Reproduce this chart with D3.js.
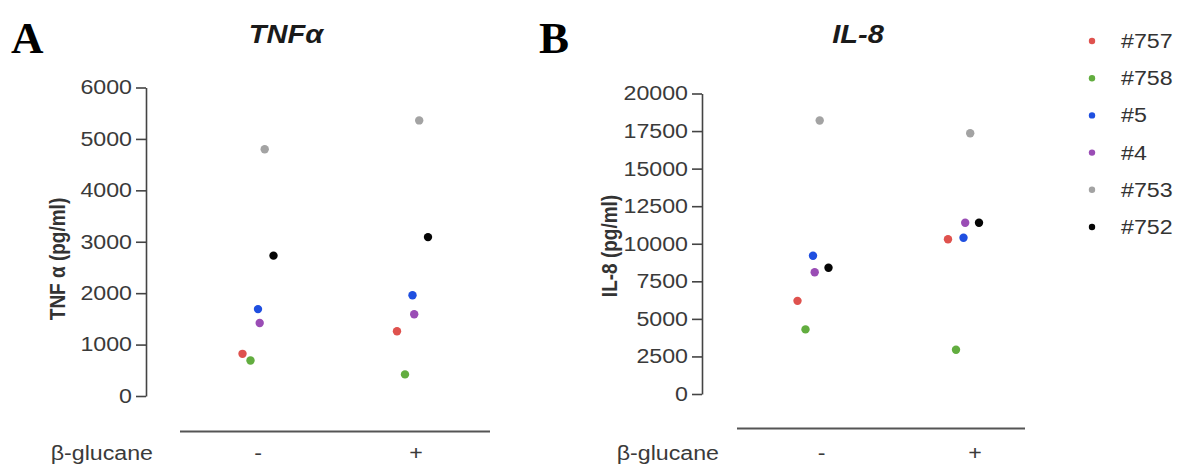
<!DOCTYPE html>
<html>
<head>
<meta charset="utf-8">
<script src="https://cdn.jsdelivr.net/npm/d3@7"></script>
<style>
  html, body { margin: 0; padding: 0; background: #fff; }
  svg { display: block; }
  svg text { font-family: "Liberation Sans", Arial, sans-serif; }
  svg text.letter { font-family: "Liberation Serif", "Times New Roman", serif; }
</style>
</head>
<body>
<svg id="chart" width="1179" height="465"></svg>
<script>
// Donors (series) and treatment groups
const donors = ["#757", "#758", "#5", "#4", "#753", "#752"];
const groups = ["-", "+"];

// TNFα concentrations (pg/ml), one value per donor
const tnfMinus = [820, 690, 1690, 1420, 4800, 2730];
const tnfPlus  = [1260, 420, 1960, 1590, 5360, 3090];

// IL-8 concentrations (pg/ml), one value per donor
const il8Minus = [6200, 4300, 9200, 8100, 18200, 8400];
const il8Plus  = [10300, 2950, 10400, 11400, 17350, 11400];

// Axis tick values
const tnfTicks = [0, 1000, 2000, 3000, 4000, 5000, 6000];
const il8Ticks = [0, 2500, 5000, 7500, 10000, 12500, 15000, 17500, 20000];

// Styling
const donorColors = ["#df524e", "#62ad3f", "#1f4fe0", "#9a4db5", "#a3a3a3", "#050505"];
const dodge = [-15.5, -7.5, 0, 1.7, 6.7, 15.5];   // horizontal spread of donors within a group
const SX = 1.16;                                   // horizontal text stretch
const axisColor = "#444";
const textColor = "#3a3a3a";

const svg = d3.select("#chart");

// Helper: text stretched horizontally around its anchor point
function stext(parent, x, y, str, opts = {}) {
  return parent.append("text")
    .attr("transform", `translate(${x},${y}) scale(${SX},1)` + (opts.rotate ? ` rotate(${opts.rotate})` : ""))
    .attr("text-anchor", opts.anchor || "start")
    .attr("font-size", opts.size || 20)
    .attr("font-weight", opts.weight || "normal")
    .attr("font-style", opts.style || "normal")
    .attr("fill", opts.fill || textColor)
    .text(str);
}

function panel(cfg) {
  const g = svg.append("g");
  const y = d3.scaleLinear().domain(cfg.domain).range(cfg.yRange);
  const xLabel = d3.scalePoint().domain(groups).range(cfg.labelRange);
  const xDots = d3.scalePoint().domain(groups).range(cfg.dotRange);

  // Y axis
  const axis = d3.axisLeft(y).tickValues(cfg.ticks).tickSize(10).tickSizeOuter(0).tickPadding(4)
    .tickFormat(d3.format("d"));
  const ag = g.append("g").attr("transform", `translate(${cfg.axisX},0)`).call(axis);
  ag.attr("font-family", null).attr("font-size", null);
  ag.select(".domain").attr("stroke", axisColor).attr("stroke-width", 1.6);
  ag.selectAll(".tick line").attr("stroke", axisColor).attr("stroke-width", 1.6);
  ag.selectAll(".tick text")
    .attr("font-size", 20)
    .attr("fill", textColor)
    .attr("x", -14 / SX)
    .attr("transform", `scale(${SX},1)`);

  // Y axis title
  stext(g, cfg.yTitleX, cfg.yTitleY, cfg.yTitle, { anchor: "middle", size: 19, weight: "bold", rotate: -90, fill: "#333" })
    .attr("dy", "0.35em");

  // Panel title
  stext(g, cfg.titleX, 43, cfg.title, { anchor: "middle", size: 25, style: "italic", weight: "bold", fill: "#1a1a1a" });

  // Panel letter
  g.append("text")
    .attr("class", "letter")
    .attr("x", cfg.letterX).attr("y", 53)
    .attr("font-weight", "bold").attr("font-size", 45)
    .attr("fill", "#000")
    .text(cfg.letter);

  // Treatment separator line and group labels
  g.append("line")
    .attr("x1", cfg.lineX[0]).attr("x2", cfg.lineX[1])
    .attr("y1", cfg.lineY).attr("y2", cfg.lineY)
    .attr("stroke", "#555").attr("stroke-width", 2);
  stext(g, cfg.rowLabelX, 460, "β-glucane", { anchor: "end", size: 20 });
  groups.forEach(k => stext(g, xLabel(k), 460, k, { anchor: "middle", size: 20 }));

  // Points
  const pts = [];
  cfg.values.forEach((vals, gi) => {
    vals.forEach((v, di) => pts.push({ group: groups[gi], donor: di, value: v }));
  });
  g.append("g").selectAll("circle").data(pts).join("circle")
    .attr("cx", d => xDots(d.group) + dodge[d.donor])
    .attr("cy", d => y(d.value))
    .attr("r", 4.2)
    .attr("fill", d => donorColors[d.donor]);
}

panel({
  letter: "A", letterX: 11,
  title: "TNFα", titleX: 286,
  yTitle: "TNF α (pg/ml)", yTitleX: 57, yTitleY: 259,
  domain: [0, 6000], yRange: [396, 87.5], ticks: tnfTicks, axisX: 146,
  labelRange: [258, 416], dotRange: [258, 412.5],
  lineX: [180, 490], lineY: 431.5, rowLabelX: 153,
  values: [tnfMinus, tnfPlus]
});

panel({
  letter: "B", letterX: 539,
  title: "IL-8", titleX: 858,
  yTitle: "IL-8 (pg/ml)", yTitleX: 609, yTitleY: 246,
  domain: [0, 20000], yRange: [394, 93.5], ticks: il8Ticks, axisX: 702,
  labelRange: [821.5, 975], dotRange: [813, 963.5],
  lineX: [737, 1025], lineY: 428.5, rowLabelX: 719,
  values: [il8Minus, il8Plus]
});

// Legend
const legend = svg.append("g");
const ly = d3.scalePoint().domain(donors).range([41, 227]);
donors.forEach((name, i) => {
  legend.append("circle")
    .attr("cx", 1092).attr("cy", ly(name)).attr("r", 3.2)
    .attr("fill", donorColors[i]);
  stext(legend, 1121, ly(name) + 7, name, { size: 20, fill: "#333" });
});
</script>
</body>
</html>
